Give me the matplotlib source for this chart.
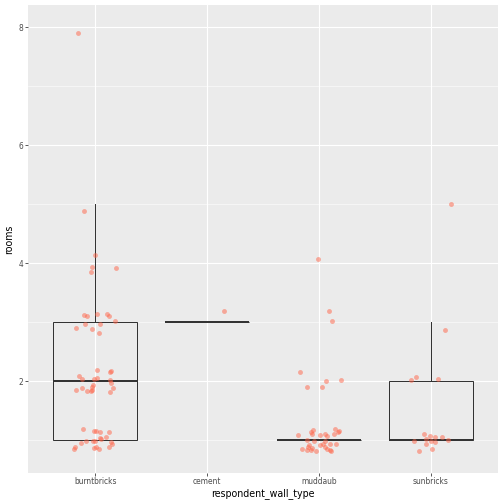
import numpy as np
import matplotlib
matplotlib.use("Agg")
import matplotlib.pyplot as plt

# categories and box statistics (outliers not drawn, as in the reference)
wall_types = ["burntbricks", "cement", "muddaub", "sunbricks"]
box_low = [1, 3, 1, 1]
box_q1 = [1, 3, 1, 1]
box_med = [2, 3, 1, 1]
box_q3 = [3, 3, 1, 2]
box_high = [5, 3, 1, 3]

# jittered points: category index, horizontal jitter, rooms (jittered)
burnt_dx = [-0.15, -0.10, 0.00, -0.03, -0.04, 0.19, -0.10, -0.07, 0.02, 0.11, 0.12,
            0.18, -0.09, 0.04, -0.17, -0.03, 0.03,
            0.02, 0.14, 0.13, -0.14, -0.12, -0.01, 0.02, 0.13, 0.14, -0.02, -0.03,
            0.16, -0.12, -0.17, -0.07, -0.04, -0.03, 0.13,
            -0.11, -0.01, 0.01, 0.04, 0.12, -0.02, 0.04, 0.05, -0.08, -0.00,
            -0.13, 0.10, 0.14, 0.15, 0.12, -0.18, -0.19, -0.01, 0.03, 0.01]
burnt_y = [7.90, 4.89, 4.14, 3.94, 3.84, 3.92, 3.12, 3.10, 3.14, 3.13, 3.10,
           3.01, 2.97, 2.96, 2.90, 2.88, 2.82,
           2.18, 2.17, 2.15, 2.08, 2.03, 2.03, 2.05, 2.01, 1.96, 1.93, 1.90,
           1.89, 1.88, 1.84, 1.83, 1.83, 1.85, 1.81,
           1.18, 1.16, 1.15, 1.14, 1.14, 0.98, 1.04, 1.01, 0.99, 0.98,
           0.95, 1.05, 0.97, 0.94, 0.89, 0.88, 0.84, 0.86, 0.85, 0.89]
cement_dx = [0.15]
cement_y = [3.19]
mud_dx = [-0.01, 0.09, 0.12, -0.17, 0.06, 0.20, -0.11, 0.03,
          -0.19, -0.05, -0.07, -0.06, 0.01, 0.05, 0.07, 0.14, 0.13, 0.17, 0.18,
          -0.11, -0.04, 0.05, 0.10, 0.15, -0.09, 0.01, 0.04, -0.10, -0.06,
          -0.15, -0.11, -0.07, -0.03, 0.07, 0.10, 0.11, 0.05]
mud_y = [4.07, 3.19, 3.02, 2.16, 2.00, 2.02, 1.90, 1.90,
         1.08, 1.17, 1.13, 1.10, 1.08, 1.11, 1.07, 1.18, 1.11, 1.14, 1.15,
         1.00, 0.98, 0.98, 0.94, 0.94, 0.92, 0.92, 0.93, 0.89, 0.87,
         0.84, 0.83, 0.83, 0.81, 0.84, 0.83, 0.81, 0.88]
sun_dx = [0.18, 0.125, -0.18, -0.13, 0.06, -0.06, -0.01, 0.04, 0.10, -0.04,
          -0.15, 0.00, 0.04, 0.15, -0.04, 0.01, -0.11]
sun_y = [5.00, 2.86, 2.01, 2.06, 2.03, 1.11, 1.07, 1.05, 1.05, 1.02,
         0.98, 0.99, 0.97, 1.00, 0.93, 0.85, 0.81]

fig = plt.figure(figsize=(7, 7), dpi=72)
ax = fig.add_axes([28 / 504, 31.3 / 504, 470 / 504, 467.7 / 504])
ax.set_facecolor("#EBEBEB")

# grid: minor lines at odd integers, major at even
for y in [1, 3, 5, 7]:
    ax.axhline(y, color="white", lw=0.55, zorder=0)
for y in [2, 4, 6, 8]:
    ax.axhline(y, color="white", lw=1.1, zorder=0)
for x in range(1, 5):
    ax.axvline(x, color="white", lw=1.1, zorder=0)

stats = []
for i, name in enumerate(wall_types):
    stats.append(dict(label=name, whislo=box_low[i], q1=box_q1[i], med=box_med[i],
                      q3=box_q3[i], whishi=box_high[i]))
ax.bxp(stats, positions=range(1, 5), widths=0.75, showfliers=False, showcaps=False,
       patch_artist=True, manage_ticks=False,
       boxprops=dict(facecolor="none", edgecolor="#333333", lw=1.0),
       whiskerprops=dict(color="#333333", lw=1.0),
       medianprops=dict(color="#333333", lw=2.0))

groups = [(burnt_dx, burnt_y), (cement_dx, cement_y), (mud_dx, mud_y), (sun_dx, sun_y)]
for i, (dx, yy) in enumerate(groups):
    ax.scatter(np.array(dx) + i + 1, yy, s=24, color="tomato", alpha=0.5,
               linewidths=0, zorder=3)

ax.set_xlim(0.4, 4.6)
ax.set_ylim(0.446, 8.373)
ax.set_xticks(range(1, 5))
ax.set_xticklabels(wall_types)
ax.set_yticks([2, 4, 6, 8])
ax.set_yticklabels(["2", "4", "6", "8"])
ax.tick_params(colors="#333333", labelcolor="#4D4D4D", labelsize=7.5, length=2.75,
               width=0.8, pad=2)
for s in ax.spines.values():
    s.set_visible(False)
ax.set_xlabel("respondent_wall_type", fontsize=9.5, labelpad=2)
ax.set_ylabel("rooms", fontsize=9.5, labelpad=4)

fig.savefig("out.png", dpi=72)
